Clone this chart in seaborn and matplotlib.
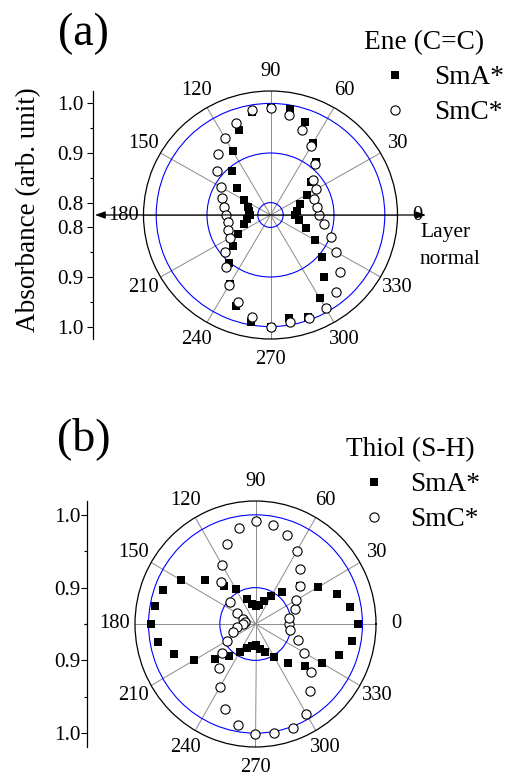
import numpy as np
import matplotlib.pyplot as plt
import seaborn as sns

sns.set_theme(style='white')
plt.rcParams['font.family'] = ['Liberation Serif', 'DejaVu Serif']
plt.rcParams.update({'axes.edgecolor': 'black', 'text.color': 'black',
                     'xtick.color': 'black', 'ytick.color': 'black',
                     'axes.labelcolor': 'black', 'axes.linewidth': 0.9})

# polarizer angle (deg)
angles = [0, 10, 20, 30, 40, 50, 60, 70, 80, 90, 100, 110,
          120, 130, 140, 150, 160, 170, 180, 190, 200, 210, 220, 230,
          240, 250, 260, 270, 280, 290, 300, 310, 320, 330, 340, 350]

# (a) Ene (C=C) absorbance
ene_sma = [0.824, 0.827, 0.837, 0.857, 0.878, 0.914, 0.942, 0.974, 0.992, 0.990, 0.986, 0.958,
           0.924, 0.892, 0.860, 0.836, 0.822, 0.817, 0.816, 0.821, 0.831, 0.850, 0.872, 0.902,
           0.936, 0.971, 0.994, 1.000, 0.985, 0.993, 0.969, 0.938, 0.907, 0.877, 0.849, 0.831]
ene_smc = [0.870, 0.868, 0.867, 0.878, 0.884, 0.910, 0.936, 0.958, 0.980, 0.991, 0.989, 0.973,
           0.954, 0.935, 0.913, 0.887, 0.876, 0.867, 0.862, 0.859, 0.865, 0.868, 0.892, 0.912,
           0.939, 0.962, 0.983, 1.001, 0.995, 0.996, 0.992, 0.977, 0.953, 0.924, 0.902, 0.881]

# (b) Thiol (S-H) absorbance
thiol_sma = [0.994, 0.985, 0.972, 0.952, 0.931, 0.907, 0.894, 0.883, 0.876, 0.875, 0.878, 0.886,
             0.906, 0.919, 0.943, 0.970, 0.988, 0.993, 0.997, 0.989, 0.971, 0.950, 0.925, 0.907,
             0.894, 0.885, 0.880, 0.879, 0.885, 0.891, 0.902, 0.920, 0.940, 0.957, 0.974, 0.987]
thiol_smc = [0.897, 0.898, 0.909, 0.915, 0.932, 0.948, 0.966, 0.980, 0.988, 0.992, 0.984, 0.967,
             0.943, 0.925, 0.897, 0.880, 0.869, 0.865, 0.868, 0.876, 0.884, 0.896, 0.911, 0.929,
             0.950, 0.974, 0.991, 1.001, 1.002, 1.002, 0.992, 0.970, 0.952, 0.929, 0.914, 0.899]

theta_ticks = [0, 30, 60, 90, 120, 150, 180, 210, 240, 270, 300, 330]
theta_minor = [15, 45, 75, 105, 135, 165, 195, 225, 255, 285, 315, 345]

W, H = 508, 776
fig = plt.figure(figsize=(W / 100, H / 100), dpi=100)


def frac(x0, y0, w, h):
    # pixel box -> figure fraction
    return [x0 / W, 1 - (y0 + h) / H, w / W, h / H]


def polar_panel(rect, rlim, rgrid, sma, smc):
    ax = fig.add_axes(rect, projection='polar')
    ax.set_aspect('auto')
    th = np.deg2rad(angles)
    sns.scatterplot(x=th, y=sma, ax=ax, marker='s', color='black', s=34,
                    linewidth=0, label='SmA*', zorder=3)
    sns.scatterplot(x=th, y=smc, ax=ax, marker='o', color='white', edgecolor='black',
                    s=44, linewidth=0.8, label='SmC*', zorder=4)
    if ax.get_legend() is not None:
        ax.get_legend().remove()
    ax.set_xlabel('')
    ax.set_ylabel('')
    ax.set_xticks(np.deg2rad(theta_ticks))
    ax.set_xticklabels([str(t) for t in theta_ticks])
    ax.set_xticks(np.deg2rad(theta_minor), minor=True)
    ax.set_yticks(rgrid)
    ax.set_yticklabels([])
    ax.set_rlim(*rlim)
    ax.set_axisbelow(True)
    ax.xaxis.grid(True, which='major', color='#8a8a8a', lw=0.7)
    ax.yaxis.grid(True, color='blue', lw=0.8)
    ax.spines['polar'].set_color('black')
    ax.spines['polar'].set_linewidth(0.9)
    ax.tick_params(axis='x', which='major', direction='in', length=4, width=0.8,
                   pad=7.4, labelsize=14.8)
    ax.tick_params(axis='x', which='minor', direction='in', length=2.5, width=0.8)
    ax.tick_params(axis='y', length=0)
    return ax


def side_axis(rect, rlim, major, minor, pad):
    ax = fig.add_axes(rect)
    span = rlim[1] - rlim[0]
    ax.set_ylim(-span, span)
    ax.set_xlim(0, 1)
    for s in ['top', 'right', 'bottom']:
        ax.spines[s].set_visible(False)
    ax.patch.set_alpha(0)
    ax.set_xticks([])
    pos = [v - rlim[0] for v in major] + [rlim[0] - v for v in major]
    ax.set_yticks(pos)
    ax.set_yticklabels([f'{v:.1f}' for v in major] * 2)
    mpos = [v - rlim[0] for v in minor] + [rlim[0] - v for v in minor]
    ax.set_yticks(mpos, minor=True)
    ax.tick_params(axis='y', which='major', direction='out', length=4, width=0.8,
                   pad=pad, labelsize=15.3, left=True)
    ax.tick_params(axis='y', which='minor', direction='out', length=2.2, width=0.8, left=True)
    return ax


def legend_for(ax, title, x0, y0, hl, tp):
    h, l = ax.get_legend_handles_labels()
    fig.legend(h, l, title=title, loc='upper left', bbox_to_anchor=(x0 / W, 1 - y0 / H),
               frameon=False, borderpad=0, borderaxespad=0, handlelength=hl,
               handletextpad=tp, labelspacing=0.36, scatteryoffsets=[0.5],
               fontsize=19.7, title_fontsize=19.7, alignment='left')


# ---- panel (a)
rlim_a = (0.775, 1.025)
ax_a = polar_panel(frac(143.5, 91, 254, 248), rlim_a, [0.8, 0.9, 1.0], ene_sma, ene_smc)
side_axis(frac(93, 91, 4, 248), rlim_a, [0.8, 0.9, 1.0], [0.85, 0.95], 2.9)
ax_a.annotate('', xy=(-0.191, 0.5), xytext=(1.112, 0.5), xycoords='axes fraction',
              arrowprops=dict(arrowstyle='<|-|>,head_length=0.5,head_width=0.18',
                              color='black', lw=0.9, mutation_scale=12,
                              shrinkA=0, shrinkB=0),
              annotation_clip=False, zorder=5)
legend_for(ax_a, 'Ene (C=C)', 364, 30.3, 2.3, 0.27)

# ---- panel (b)
rlim_b = (0.85, 1.019)
ax_b = polar_panel(frac(135, 501, 241, 246), rlim_b, [0.9, 1.0], thiol_sma, thiol_smc)
side_axis(frac(87, 501, 4, 246), rlim_b, [0.9, 1.0], [0.85, 0.95], 0.8)
legend_for(ax_b, 'Thiol (S-H)', 345.7, 437.3, 2.07, 0.3)

# ---- texts
fig.text(83 / W, 1 - 34 / H, '(a)', ha='center', va='center', fontsize=33)
fig.text(84 / W, 1 - 439 / H, '(b)', ha='center', va='center', fontsize=33)
fig.text(29 / W, 1 - 210 / H, 'Absorbance (arb. unit)', rotation=90,
         ha='center', va='center', fontsize=19.5)
fig.text(420 / W, 1 - 237 / H, 'Layer', ha='left', va='baseline', fontsize=15.5)
fig.text(420 / W, 1 - 264 / H, 'normal', ha='left', va='baseline', fontsize=15.5)

fig.savefig('out.png', dpi=100)
